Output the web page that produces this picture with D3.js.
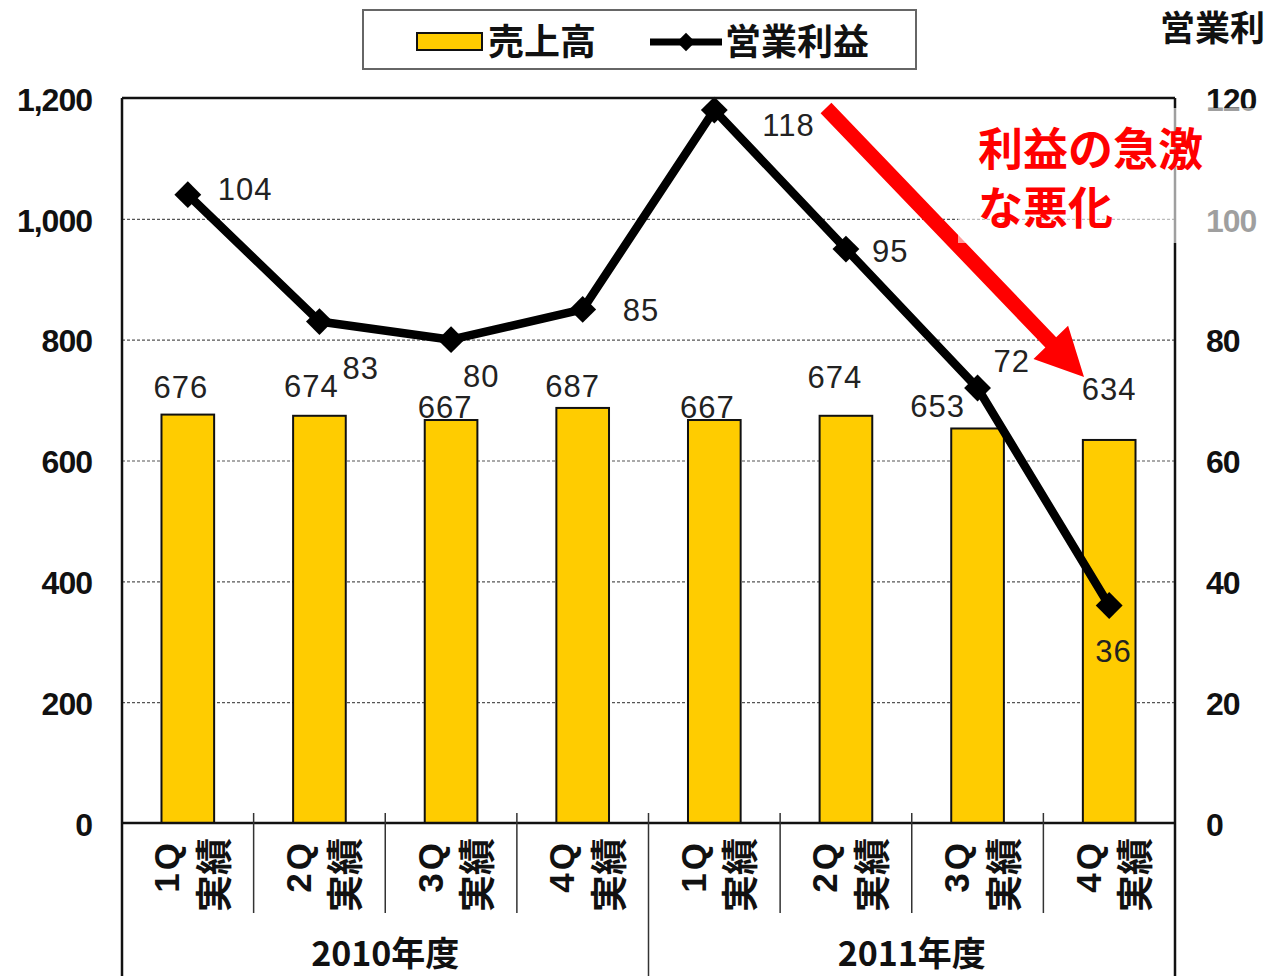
<!DOCTYPE html>
<html>
<head>
<meta charset="utf-8">
<script src="https://cdn.jsdelivr.net/npm/d3@7"></script>
<style>
  html, body { margin: 0; padding: 0; background: #fff; overflow: hidden; }
  svg { display: block; }
</style>
</head>
<body>
<svg id="chart" width="1264" height="976"></svg>
<script>
// Quarterly sales (left axis) and operating profit (right axis)
const quarters = ["1Q", "2Q", "3Q", "4Q", "1Q", "2Q", "3Q", "4Q"];
const quarterSuffix = "実績";
const fiscalYears = ["2010年度", "2011年度"];
const sales = [676, 674, 667, 687, 667, 674, 653, 634];
const operatingProfit = [104, 83, 80, 85, 118, 95, 72, 36];
const salesTicks = [0, 200, 400, 600, 800, 1000, 1200];
const profitTicks = [0, 20, 40, 60, 80, 100, 120];
const seriesNames = ["売上高", "営業利益"];
const calloutLines = ["利益の急激", "な悪化"];

// hand-placed label nudges (pixels) so labels clear the line and each other
const salesLabelNudge = [[-7, -17], [-8, -19], [-6, -2], [-10, -11], [-7, -2], [-11, -28], [-40, -11], [0, -40]];
const profitLabelNudge = [[30, 5], [23, 57], [12, 47], [40, 12], [48, 26], [26, 13], [16, -16], [-14, 56]];

const NUM_FONT = "'Liberation Sans', Arial, sans-serif";
const JP_FONT = "'Noto Sans CJK JP', 'Noto Sans', sans-serif";

const svg = d3.select("#chart");
const plotLeft = 122, plotRight = 1175, plotTop = 98, plotBottom = 823;

const x = d3.scaleBand().domain(d3.range(quarters.length)).range([plotLeft, plotRight]).padding(0);
const yL = d3.scaleLinear().domain([0, 1200]).range([plotBottom, plotTop]);
const yR = d3.scaleLinear().domain([0, 120]).range([plotBottom, plotTop]);
const cx = i => x(i) + x.bandwidth() / 2;
const barW = x.bandwidth() * 0.4;

// dashed gridlines
svg.append("g")
  .attr("transform", `translate(${plotLeft},0)`)
  .call(d3.axisLeft(yL).tickValues(salesTicks.filter(v => v > 0 && v < 1200)).tickSize(-(plotRight - plotLeft)).tickFormat(""))
  .call(g => g.select(".domain").remove())
  .call(g => g.selectAll("line").attr("stroke", "#555").attr("stroke-width", 1.2).attr("stroke-dasharray", "3,2"));

// sales bars
svg.append("g").selectAll("rect").data(sales).join("rect")
  .attr("x", (d, i) => cx(i) - barW / 2)
  .attr("y", d => yL(d))
  .attr("width", barW)
  .attr("height", d => plotBottom - yL(d))
  .attr("fill", "#FFCC00")
  .attr("stroke", "#111")
  .attr("stroke-width", 2);

// operating profit line
const line = d3.line().x((d, i) => cx(i)).y(d => yR(d));
svg.append("path").datum(operatingProfit)
  .attr("d", line)
  .attr("fill", "none")
  .attr("stroke", "#000")
  .attr("stroke-width", 8.5)
  .attr("stroke-linejoin", "round");

const diamond = d3.symbol().type(d3.symbolSquare).size(360);
svg.append("g").selectAll("path").data(operatingProfit).join("path")
  .attr("d", diamond)
  .attr("transform", (d, i) => `translate(${cx(i)},${yR(d)}) rotate(45)`)
  .attr("fill", "#000");

// value labels
svg.append("g").selectAll("text").data(sales).join("text")
  .attr("x", (d, i) => cx(i) + salesLabelNudge[i][0])
  .attr("y", (d, i) => yL(d) + salesLabelNudge[i][1])
  .attr("text-anchor", "middle")
  .attr("font-family", NUM_FONT)
  .attr("font-size", 31)
  .attr("letter-spacing", 1)
  .attr("fill", "#222")
  .text(d => d);

svg.append("g").selectAll("text").data(operatingProfit).join("text")
  .attr("x", (d, i) => cx(i) + profitLabelNudge[i][0])
  .attr("y", (d, i) => yR(d) + profitLabelNudge[i][1])
  .attr("text-anchor", "start")
  .attr("font-family", NUM_FONT)
  .attr("font-size", 31)
  .attr("letter-spacing", 1)
  .attr("fill", "#222")
  .text(d => d);

// left axis labels
svg.append("g")
  .attr("transform", `translate(${plotLeft},0)`)
  .call(d3.axisLeft(yL).tickValues(salesTicks).tickSize(0).tickPadding(30).tickFormat(d3.format(",")))
  .call(g => g.select(".domain").remove())
  .call(g => g.selectAll("text")
    .attr("font-family", NUM_FONT).attr("font-size", 32).attr("font-weight", "bold")
    .attr("letter-spacing", -1).attr("fill", "#111").attr("dy", "0.38em"));

// right axis labels
svg.append("g")
  .attr("transform", `translate(${plotRight},0)`)
  .call(d3.axisRight(yR).tickValues(profitTicks).tickSize(0).tickPadding(31))
  .call(g => g.select(".domain").remove())
  .call(g => g.selectAll("text")
    .attr("font-family", NUM_FONT).attr("font-size", 32).attr("font-weight", "bold")
    .attr("letter-spacing", -1).attr("fill", "#111").attr("dy", "0.38em"));

// plot frame and category dividers
const frame = svg.append("g").attr("stroke", "#111").attr("fill", "none");
frame.append("line").attr("x1", plotLeft).attr("x2", plotRight).attr("y1", plotTop).attr("y2", plotTop).attr("stroke-width", 2.5);
frame.append("line").attr("x1", plotLeft).attr("x2", plotRight).attr("y1", plotBottom).attr("y2", plotBottom).attr("stroke-width", 2.5);
frame.append("line").attr("x1", plotLeft).attr("x2", plotLeft).attr("y1", plotTop).attr("y2", 976).attr("stroke-width", 2.5);
frame.append("line").attr("x1", plotRight).attr("x2", plotRight).attr("y1", plotTop).attr("y2", 976).attr("stroke-width", 2.5);
d3.range(1, quarters.length).forEach(i => {
  const isYearBreak = i % 4 === 0;
  frame.append("line")
    .attr("x1", x(i)).attr("x2", x(i))
    .attr("y1", plotBottom - 10).attr("y2", isYearBreak ? 976 : 913)
    .attr("stroke", "#333").attr("stroke-width", 1.5);
});

// rotated quarter labels
const cat = svg.append("g").attr("font-family", JP_FONT).attr("font-weight", "bold").attr("fill", "#111");
quarters.forEach((q, i) => {
  cat.append("text")
    .attr("transform", `translate(${cx(i) - 21},840) rotate(-90)`)
    .attr("text-anchor", "end")
    .attr("dominant-baseline", "central")
    .attr("font-family", NUM_FONT)
    .attr("font-size", 35)
    .attr("letter-spacing", 3)
    .text(q);
  cat.append("text")
    .attr("transform", `translate(${cx(i) + 24},838) rotate(-90)`)
    .attr("text-anchor", "end")
    .attr("dominant-baseline", "central")
    .attr("font-size", 37)
    .text(quarterSuffix);
});

// fiscal year labels
fiscalYears.forEach((yLabel, k) => {
  const x0 = x(k * 4), x1 = x(k * 4 + 3) + x.bandwidth();
  svg.append("text")
    .attr("x", (x0 + x1) / 2).attr("y", 966)
    .attr("text-anchor", "middle")
    .attr("font-family", JP_FONT).attr("font-weight", "bold")
    .attr("font-size", 34).attr("fill", "#111")
    .text(yLabel);
});

// legend
const legend = svg.append("g");
legend.append("rect").attr("x", 363).attr("y", 10).attr("width", 553).attr("height", 59)
  .attr("fill", "#fff").attr("stroke", "#666").attr("stroke-width", 2);
legend.append("rect").attr("x", 417).attr("y", 33).attr("width", 65).attr("height", 17)
  .attr("fill", "#FFCC00").attr("stroke", "#111").attr("stroke-width", 2);
legend.append("text").attr("x", 488).attr("y", 55)
  .attr("font-family", JP_FONT).attr("font-weight", "bold").attr("font-size", 36).attr("fill", "#111")
  .text(seriesNames[0]);
legend.append("line").attr("x1", 650).attr("x2", 722).attr("y1", 42).attr("y2", 42)
  .attr("stroke", "#000").attr("stroke-width", 7);
legend.append("path").attr("d", d3.symbol().type(d3.symbolSquare).size(170))
  .attr("transform", "translate(686,42) rotate(45)").attr("fill", "#000");
legend.append("text").attr("x", 725).attr("y", 55)
  .attr("font-family", JP_FONT).attr("font-weight", "bold").attr("font-size", 36).attr("fill", "#111")
  .text(seriesNames[1]);

// right axis title (runs past the page edge)
svg.append("text").attr("x", 1160).attr("y", 41)
  .attr("font-family", JP_FONT).attr("font-weight", "bold").attr("font-size", 35).attr("fill", "#111")
  .text(seriesNames[1]);

// red callout arrow
function arrowPath(x0, y0, x1, y1, shaft, headLen, headW) {
  const dx = x1 - x0, dy = y1 - y0, L = Math.hypot(dx, dy);
  const ux = dx / L, uy = dy / L, px = -uy, py = ux;
  const bx = x1 - ux * headLen, by = y1 - uy * headLen;
  const pts = [
    [x0 + px * shaft / 2, y0 + py * shaft / 2],
    [bx + px * shaft / 2, by + py * shaft / 2],
    [bx + px * headW / 2, by + py * headW / 2],
    [x1, y1],
    [bx - px * headW / 2, by - py * headW / 2],
    [bx - px * shaft / 2, by - py * shaft / 2],
    [x0 - px * shaft / 2, y0 - py * shaft / 2]
  ];
  return "M" + pts.map(p => p.join(",")).join("L") + "Z";
}
svg.append("path")
  .attr("d", arrowPath(826, 108, 1084, 377, 15, 48, 48))
  .attr("fill", "#FF0000");

// pale panel behind the callout text
svg.append("rect").attr("x", 958).attr("y", 108).attr("width", 306).attr("height", 135)
  .attr("fill", "#fff").attr("opacity", 0.6);

const callout = svg.append("g").attr("font-family", JP_FONT).attr("font-weight", "bold")
  .attr("font-size", 45).attr("fill", "#FF0000");
calloutLines.forEach((t, k) => {
  callout.append("text").attr("x", 978).attr("y", 166 + k * 59).text(t);
});
</script>
</body>
</html>
